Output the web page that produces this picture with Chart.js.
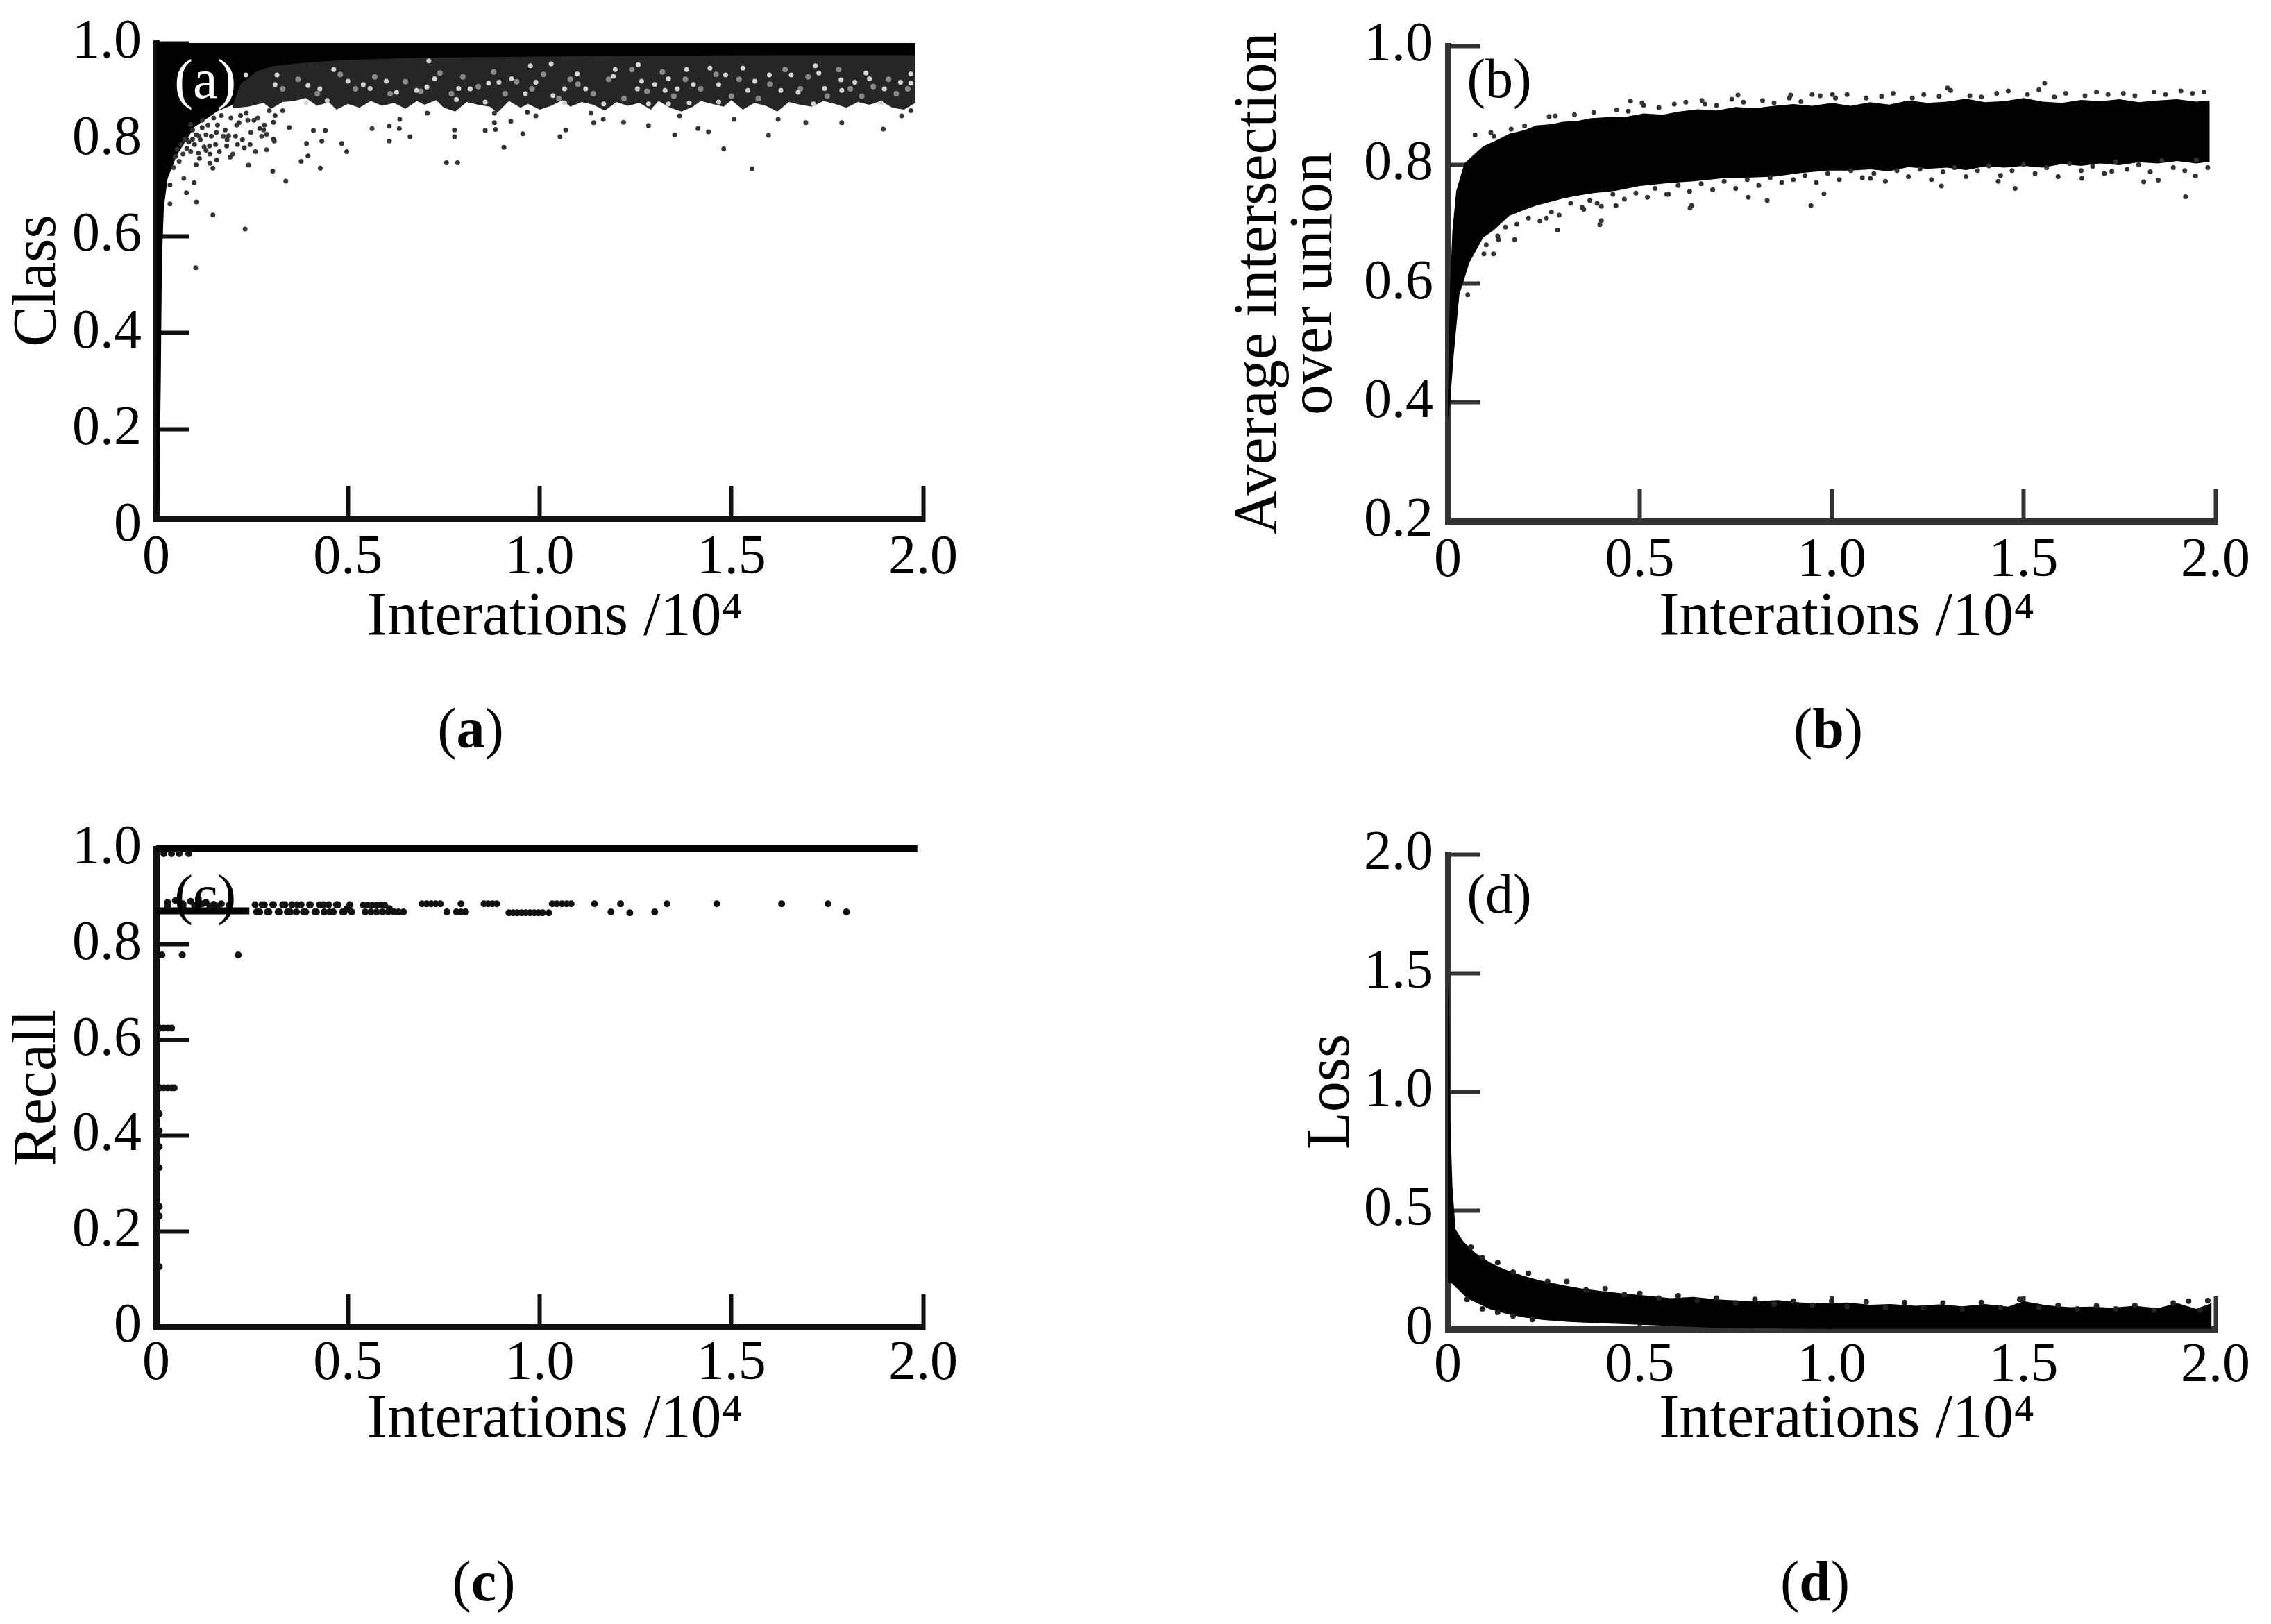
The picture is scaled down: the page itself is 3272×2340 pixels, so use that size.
<!DOCTYPE html>
<html>
<head>
<meta charset="utf-8">
<title>Training curves</title>
<script src="https://cdn.jsdelivr.net/npm/chart.js@4/dist/chart.umd.min.js"></script>
<style>
    body { margin: 0; background: #fff; width: 3272px; height: 2340px; position: relative; overflow: hidden; }
    canvas { position: absolute; }
    .caption { position: absolute; transform: translate(-50%, -50%); font: 82px "Liberation Serif", serif; color: #000; }
</style>
</head>
<body>
<canvas id="chartA" width="1500" height="1000" style="left:0;top:0"></canvas>
<canvas id="chartB" width="1572" height="1000" style="left:1700px;top:0"></canvas>
<canvas id="chartC" width="1500" height="1000" style="left:0;top:1170px"></canvas>
<canvas id="chartD" width="1572" height="1000" style="left:1700px;top:1170px"></canvas>
<div class="caption" style="left:678px;top:1050px">(<b>a</b>)</div>
<div class="caption" style="left:2634px;top:1050px">(<b>b</b>)</div>
<div class="caption" style="left:697px;top:2279px">(<b>c</b>)</div>
<div class="caption" style="left:2615px;top:2279px">(<b>d</b>)</div>
<script>
// Tick values and axis titles
const xTicks = [0, 0.5, 1, 1.5, 2];
const classTicks = [0, 0.2, 0.4, 0.6, 0.8, 1];
const iouTicks = [0.2, 0.4, 0.6, 0.8, 1];
const recallTicks = [0, 0.2, 0.4, 0.6, 0.8, 1];
const lossTicks = [0, 0.5, 1, 1.5, 2];
const xTitle = '\u00a0\u00a0Interations /10\u2074';

// (a) Class: solid black part of the cloud (lower edge, up to 1.0)
const classSolidX = [0, 0.008, 0.012, 0.015, 0.02, 0.03, 0.054, 0.1, 0.16, 0.2, 0.22, 0.26, 0.3, 0.4, 0.5, 0.7, 1, 1.3, 1.6, 1.98];
const classSolidLow = [0.02, 0.06, 0.3, 0.55, 0.66, 0.72, 0.768, 0.826, 0.859, 0.872, 0.915, 0.94, 0.952, 0.96, 0.965, 0.97, 0.972, 0.974, 0.975, 0.975];

// (a) Class: dark speckled part of the cloud, jagged lower edge
const classDarkX = [0.2, 0.24, 0.28, 0.3, 0.33, 0.36, 0.39, 0.42, 0.45, 0.47, 0.5, 0.53, 0.56, 0.59, 0.62, 0.65, 0.68, 0.7, 0.73, 0.75, 0.78, 0.81, 0.84, 0.87, 0.89, 0.92, 0.95, 0.97, 1, 1.03, 1.06, 1.08, 1.11, 1.14, 1.17, 1.2, 1.23, 1.26, 1.29, 1.31, 1.34, 1.37, 1.4, 1.42, 1.45, 1.48, 1.5, 1.53, 1.56, 1.59, 1.62, 1.65, 1.68, 1.71, 1.74, 1.77, 1.8, 1.83, 1.86, 1.89, 1.92, 1.95, 1.98];
const classDarkLow = [0.865, 0.868, 0.876, 0.864, 0.878, 0.88, 0.886, 0.87, 0.878, 0.862, 0.874, 0.866, 0.88, 0.87, 0.876, 0.864, 0.88, 0.872, 0.882, 0.866, 0.858, 0.878, 0.872, 0.868, 0.856, 0.88, 0.866, 0.874, 0.862, 0.87, 0.882, 0.868, 0.878, 0.872, 0.86, 0.878, 0.87, 0.876, 0.862, 0.88, 0.866, 0.858, 0.868, 0.88, 0.874, 0.868, 0.882, 0.862, 0.876, 0.87, 0.858, 0.878, 0.872, 0.868, 0.88, 0.874, 0.866, 0.878, 0.872, 0.88, 0.866, 0.862, 0.876];

// (a) Class: light gaps seen inside the speckled part
const classGapX = [0.234, 0.31, 0.315, 0.391, 0.396, 0.427, 0.446, 0.463, 0.5, 0.54, 0.558, 0.6, 0.627, 0.679, 0.706, 0.711, 0.726, 0.783, 0.789, 0.819, 0.858, 0.867, 0.894, 0.927, 0.963, 0.976, 0.99, 1.03, 1.035, 1.065, 1.065, 1.098, 1.12, 1.167, 1.192, 1.197, 1.255, 1.257, 1.266, 1.284, 1.3, 1.327, 1.336, 1.336, 1.359, 1.383, 1.39, 1.401, 1.444, 1.467, 1.467, 1.485, 1.53, 1.543, 1.561, 1.599, 1.629, 1.656, 1.674, 1.714, 1.719, 1.728, 1.743, 1.786, 1.788, 1.822, 1.851, 1.86, 1.89, 1.899, 1.941, 1.968, 1.968];
const classGapY = [0.934, 0.914, 0.934, 0.876, 0.912, 0.905, 0.881, 0.945, 0.921, 0.914, 0.906, 0.921, 0.898, 0.902, 0.909, 0.963, 0.926, 0.883, 0.906, 0.905, 0.878, 0.917, 0.919, 0.926, 0.895, 0.953, 0.919, 0.957, 0.891, 0.905, 0.876, 0.936, 0.905, 0.874, 0.931, 0.945, 0.905, 0.955, 0.921, 0.874, 0.914, 0.902, 0.926, 0.874, 0.905, 0.945, 0.876, 0.914, 0.948, 0.914, 0.878, 0.934, 0.948, 0.902, 0.921, 0.934, 0.902, 0.934, 0.898, 0.874, 0.953, 0.938, 0.906, 0.924, 0.902, 0.919, 0.938, 0.926, 0.876, 0.905, 0.919, 0.936, 0.917];
const classGreyX = [0.33, 0.37, 0.42, 0.48, 0.52, 0.57, 0.61, 0.65, 0.69, 0.74, 0.77, 0.8, 0.84, 0.88, 0.91, 0.94, 0.98, 1.01, 1.05, 1.08, 1.1, 1.14, 1.18, 1.22, 1.24, 1.28, 1.32, 1.35, 1.38, 1.42, 1.46, 1.5, 1.52, 1.57, 1.6, 1.64, 1.68, 1.7, 1.75, 1.78, 1.81, 1.84, 1.87, 1.91, 1.93, 1.96];
const classGreyY = [0.905, 0.925, 0.895, 0.935, 0.905, 0.93, 0.895, 0.92, 0.9, 0.938, 0.895, 0.93, 0.91, 0.94, 0.895, 0.92, 0.905, 0.935, 0.885, 0.925, 0.915, 0.895, 0.925, 0.885, 0.945, 0.9, 0.94, 0.89, 0.925, 0.905, 0.935, 0.89, 0.925, 0.885, 0.915, 0.945, 0.905, 0.93, 0.89, 0.945, 0.905, 0.89, 0.91, 0.925, 0.895, 0.905];

// (a) Class: separate points below the cloud
const classX = [0.036, 0.036, 0.072, 0.079, 0.09, 0.095, 0.099, 0.103, 0.104, 0.105, 0.112, 0.113, 0.12, 0.13, 0.139, 0.14, 0.144, 0.148, 0.148, 0.157, 0.158, 0.175, 0.184, 0.189, 0.193, 0.207, 0.212, 0.216, 0.23, 0.232, 0.239, 0.241, 0.247, 0.259, 0.27, 0.275, 0.282, 0.288, 0.288, 0.304, 0.306, 0.306, 0.308, 0.338, 0.347, 0.378, 0.392, 0.396, 0.41, 0.428, 0.432, 0.441, 0.484, 0.497, 0.563, 0.608, 0.608, 0.634, 0.635, 0.662, 0.707, 0.757, 0.778, 0.778, 0.786, 0.858, 0.882, 0.882, 0.885, 0.907, 0.925, 0.956, 0.968, 0.99, 1.053, 1.068, 1.134, 1.141, 1.166, 1.219, 1.284, 1.352, 1.365, 1.413, 1.44, 1.48, 1.507, 1.554, 1.597, 1.622, 1.694, 1.788, 1.896, 1.944, 1.968];
const classY = [0.667, 0.706, 0.72, 0.69, 0.831, 0.801, 0.711, 0.535, 0.748, 0.671, 0.807, 0.761, 0.84, 0.778, 0.787, 0.751, 0.807, 0.644, 0.741, 0.815, 0.758, 0.807, 0.787, 0.808, 0.764, 0.807, 0.79, 0.835, 0.783, 0.615, 0.84, 0.747, 0.815, 0.775, 0.823, 0.807, 0.83, 0.779, 0.811, 0.735, 0.801, 0.836, 0.797, 0.714, 0.825, 0.755, 0.792, 0.766, 0.819, 0.741, 0.797, 0.819, 0.792, 0.775, 0.823, 0.828, 0.797, 0.823, 0.842, 0.806, 0.855, 0.752, 0.82, 0.806, 0.752, 0.819, 0.835, 0.855, 0.821, 0.784, 0.838, 0.812, 0.857, 0.849, 0.806, 0.82, 0.855, 0.835, 0.842, 0.836, 0.829, 0.81, 0.849, 0.823, 0.816, 0.781, 0.842, 0.74, 0.809, 0.842, 0.835, 0.835, 0.822, 0.849, 0.86];
const classClusterX = [0.045, 0.05, 0.055, 0.06, 0.065, 0.07, 0.075, 0.08, 0.085, 0.09, 0.095, 0.1, 0.105, 0.11, 0.115, 0.12, 0.125, 0.13, 0.135, 0.14, 0.15, 0.155, 0.16, 0.165, 0.17, 0.18, 0.185, 0.195, 0.2, 0.21, 0.22, 0.225, 0.235, 0.245, 0.255, 0.265, 0.28, 0.295, 0.31, 0.33];
const classClusterY = [0.742, 0.765, 0.78, 0.755, 0.79, 0.77, 0.8, 0.782, 0.795, 0.775, 0.82, 0.79, 0.81, 0.772, 0.8, 0.825, 0.785, 0.81, 0.83, 0.77, 0.845, 0.79, 0.83, 0.775, 0.85, 0.82, 0.8, 0.845, 0.77, 0.83, 0.85, 0.8, 0.855, 0.79, 0.84, 0.845, 0.82, 0.86, 0.85, 0.86];

// (b) Average intersection over union: outline of the black band
const iouUpperX = [0, 0.006, 0.012, 0.022, 0.043, 0.07, 0.092, 0.13, 0.16, 0.2, 0.23, 0.27, 0.3, 0.34, 0.37, 0.42, 0.46, 0.51, 0.56, 0.6, 0.65, 0.7, 0.75, 0.8, 0.85, 0.9, 0.95, 1, 1.05, 1.1, 1.15, 1.2, 1.25, 1.3, 1.35, 1.4, 1.45, 1.5, 1.55, 1.6, 1.65, 1.7, 1.75, 1.8, 1.85, 1.9, 1.95, 1.985];
const iouUpper = [0.4, 0.6, 0.69, 0.756, 0.802, 0.818, 0.831, 0.842, 0.852, 0.858, 0.866, 0.868, 0.872, 0.874, 0.878, 0.88, 0.88, 0.886, 0.884, 0.889, 0.893, 0.891, 0.897, 0.895, 0.899, 0.902, 0.899, 0.904, 0.899, 0.905, 0.901, 0.908, 0.904, 0.906, 0.911, 0.905, 0.907, 0.912, 0.906, 0.904, 0.909, 0.907, 0.91, 0.905, 0.908, 0.91, 0.906, 0.908];
const iouLowerX = [0, 0.006, 0.015, 0.03, 0.056, 0.092, 0.12, 0.16, 0.2, 0.23, 0.26, 0.3, 0.34, 0.38, 0.437, 0.5, 0.575, 0.64, 0.714, 0.78, 0.85, 0.92, 0.99, 1.05, 1.1, 1.15, 1.2, 1.25, 1.3, 1.35, 1.4, 1.45, 1.5, 1.55, 1.6, 1.65, 1.7, 1.75, 1.8, 1.85, 1.9, 1.95, 1.985];
const iouLower = [0.37, 0.4, 0.477, 0.581, 0.635, 0.677, 0.69, 0.714, 0.724, 0.731, 0.736, 0.743, 0.748, 0.752, 0.756, 0.764, 0.769, 0.772, 0.777, 0.778, 0.78, 0.786, 0.79, 0.79, 0.792, 0.789, 0.796, 0.793, 0.795, 0.791, 0.797, 0.795, 0.798, 0.795, 0.801, 0.798, 0.802, 0.799, 0.804, 0.802, 0.806, 0.802, 0.805];

// (b) separate points around the band
const iouX = [0.052, 0.071, 0.094, 0.112, 0.119, 0.132, 0.165, 0.174, 0.257, 0.264, 0.286, 0.354, 0.389, 0.396, 0.4, 0.438, 0.476, 0.506, 0.575, 0.631, 0.635, 0.662, 0.756, 0.783, 0.832, 0.893, 0.946, 0.949, 0.98, 1.002, 1.101, 1.286, 1.302, 1.434, 1.478, 1.555, 1.652, 1.73, 1.813, 1.851, 1.922, 1.948];
const iouY = [0.581, 0.85, 0.65, 0.854, 0.65, 0.674, 0.86, 0.674, 0.71, 0.881, 0.69, 0.725, 0.735, 0.699, 0.706, 0.731, 0.907, 0.904, 0.75, 0.727, 0.731, 0.908, 0.917, 0.745, 0.74, 0.917, 0.731, 0.918, 0.751, 0.918, 0.777, 0.764, 0.929, 0.772, 0.76, 0.937, 0.777, 0.789, 0.771, 0.774, 0.746, 0.781];
// (b) loose points along the lower and upper fringe of the band
const iouLowFringeX = [0.1, 0.13, 0.15, 0.18, 0.21, 0.24, 0.27, 0.29, 0.32, 0.35, 0.37, 0.4, 0.43, 0.46, 0.49, 0.52, 0.54, 0.57, 0.6, 0.63, 0.66, 0.69, 0.72, 0.75, 0.78, 0.81, 0.84, 0.87, 0.9, 0.93, 0.96, 0.99, 1.02, 1.05, 1.08, 1.11, 1.14, 1.17, 1.2, 1.23, 1.26, 1.29, 1.32, 1.35, 1.38, 1.41, 1.44, 1.47, 1.5, 1.53, 1.56, 1.59, 1.62, 1.65, 1.68, 1.71, 1.74, 1.77, 1.8, 1.83, 1.86, 1.89, 1.92, 1.95, 1.98];
const iouLowFringeY = [0.665, 0.68, 0.695, 0.7, 0.71, 0.705, 0.72, 0.715, 0.735, 0.728, 0.74, 0.73, 0.75, 0.742, 0.752, 0.745, 0.76, 0.75, 0.765, 0.755, 0.768, 0.758, 0.772, 0.76, 0.775, 0.765, 0.778, 0.77, 0.775, 0.782, 0.77, 0.785, 0.775, 0.79, 0.778, 0.785, 0.772, 0.79, 0.78, 0.792, 0.775, 0.788, 0.795, 0.78, 0.79, 0.798, 0.782, 0.79, 0.8, 0.785, 0.795, 0.78, 0.802, 0.79, 0.797, 0.785, 0.805, 0.792, 0.8, 0.788, 0.807, 0.795, 0.79, 0.808, 0.795];
const iouHighFringeX = [0.12, 0.2, 0.28, 0.33, 0.38, 0.44, 0.47, 0.51, 0.55, 0.59, 0.62, 0.67, 0.7, 0.74, 0.77, 0.82, 0.85, 0.89, 0.92, 0.97, 1.01, 1.04, 1.09, 1.13, 1.16, 1.21, 1.24, 1.28, 1.31, 1.36, 1.39, 1.43, 1.46, 1.51, 1.54, 1.58, 1.61, 1.66, 1.69, 1.72, 1.76, 1.79, 1.84, 1.87, 1.91, 1.94, 1.97];
const iouHighFringeY = [0.848, 0.865, 0.882, 0.884, 0.888, 0.892, 0.89, 0.9, 0.896, 0.902, 0.905, 0.902, 0.9, 0.91, 0.905, 0.908, 0.904, 0.912, 0.906, 0.916, 0.912, 0.918, 0.912, 0.915, 0.92, 0.912, 0.918, 0.915, 0.925, 0.916, 0.914, 0.92, 0.924, 0.918, 0.926, 0.914, 0.92, 0.916, 0.922, 0.918, 0.92, 0.916, 0.922, 0.918, 0.924, 0.92, 0.922];

// (c) Recall: the points at 1.0 and the solid run near 0.87
const recallTopX = [0, 1.985];
const recallTopY = [1, 1];
const recallRunX = [0, 0.243];
const recallRunY = [0.87, 0.87];

// (c) separate points
const recallX = [0.008, 0.008, 0.008, 0.008, 0.008, 0.008, 0.008, 0.01, 0.02, 0.03, 0.04, 0.01, 0.02, 0.03, 0.04, 0.047, 0.015, 0.068, 0.214, 0.02, 0.04, 0.06, 0.085, 0.03, 0.05, 0.07, 0.09, 0.11, 0.13, 0.15, 0.17, 0.19, 0.03, 0.07, 0.1, 0.12, 0.14, 0.16, 0.258, 0.27, 0.282, 0.294, 0.306, 0.318, 0.33, 0.342, 0.354, 0.366, 0.378, 0.39, 0.402, 0.414, 0.426, 0.438, 0.45, 0.462, 0.474, 0.486, 0.498, 0.51, 0.262, 0.276, 0.29, 0.304, 0.322, 0.336, 0.35, 0.368, 0.384, 0.4, 0.418, 0.436, 0.452, 0.47, 0.49, 0.505, 0.54, 0.552, 0.564, 0.576, 0.586, 0.596, 0.608, 0.62, 0.632, 0.645, 0.545, 0.56, 0.575, 0.59, 0.605, 0.693, 0.705, 0.717, 0.729, 0.741, 0.758, 0.783, 0.795, 0.807, 0.795, 0.855, 0.866, 0.877, 0.888, 0.92, 0.931, 0.942, 0.953, 0.964, 0.975, 0.986, 0.997, 1.008, 1.024, 1.033, 1.045, 1.058, 1.07, 1.082, 1.143, 1.186, 1.211, 1.235, 1.3, 1.332, 1.462, 1.631, 1.752, 1.8, 1.825];
const recallY = [0.446, 0.377, 0.333, 0.252, 0.232, 0.126, 0.41, 0.625, 0.625, 0.625, 0.625, 0.5, 0.5, 0.5, 0.5, 0.5, 0.778, 0.778, 0.778, 0.99, 0.99, 0.99, 0.99, 0.888, 0.892, 0.885, 0.89, 0.895, 0.888, 0.884, 0.885, 0.882, 0.88, 0.88, 0.882, 0.885, 0.88, 0.88, 0.883, 0.868, 0.883, 0.868, 0.883, 0.868, 0.883, 0.868, 0.883, 0.868, 0.883, 0.868, 0.883, 0.868, 0.883, 0.868, 0.883, 0.868, 0.883, 0.868, 0.875, 0.868, 0.868, 0.883, 0.868, 0.883, 0.868, 0.883, 0.868, 0.883, 0.868, 0.883, 0.868, 0.883, 0.868, 0.883, 0.868, 0.883, 0.882, 0.882, 0.882, 0.882, 0.882, 0.882, 0.875, 0.868, 0.868, 0.868, 0.868, 0.868, 0.868, 0.868, 0.868, 0.885, 0.885, 0.885, 0.885, 0.885, 0.868, 0.868, 0.885, 0.868, 0.868, 0.885, 0.885, 0.885, 0.885, 0.866, 0.866, 0.866, 0.866, 0.866, 0.866, 0.866, 0.866, 0.866, 0.866, 0.885, 0.885, 0.885, 0.885, 0.885, 0.885, 0.868, 0.885, 0.866, 0.868, 0.885, 0.885, 0.885, 0.885, 0.868];

// (d) Loss: outline of the black band
const lossUpperX = [0, 0.004, 0.006, 0.012, 0.02, 0.04, 0.072, 0.11, 0.15, 0.195, 0.24, 0.3, 0.35, 0.4, 0.457, 0.52, 0.58, 0.64, 0.7, 0.76, 0.805, 0.86, 0.92, 0.98, 1.04, 1.1, 1.154, 1.22, 1.28, 1.34, 1.4, 1.46, 1.5, 1.56, 1.62, 1.676, 1.73, 1.79, 1.85, 1.9, 1.95, 1.99];
const lossUpper = [1.45, 1.3, 0.9, 0.6, 0.42, 0.37, 0.32, 0.28, 0.25, 0.225, 0.205, 0.185, 0.17, 0.16, 0.15, 0.14, 0.13, 0.135, 0.125, 0.12, 0.117, 0.122, 0.112, 0.108, 0.112, 0.102, 0.105, 0.098, 0.104, 0.096, 0.105, 0.094, 0.118, 0.1, 0.092, 0.094, 0.09, 0.098, 0.088, 0.11, 0.085, 0.11];
const lossLowerX = [0, 0.012, 0.05, 0.108, 0.15, 0.195, 0.25, 0.316, 0.4, 0.5, 0.6, 0.7, 1, 1.5, 1.99];
const lossLower = [0.2, 0.19, 0.13, 0.085, 0.065, 0.05, 0.038, 0.03, 0.024, 0.018, 0.012, 0.005, 0, 0, 0];
// (d) loose points along the edges of the band
const lossFringeX = [0.06, 0.09, 0.13, 0.17, 0.21, 0.26, 0.31, 0.36, 0.41, 0.46, 0.5, 0.55, 0.6, 0.65, 0.7, 0.75, 0.8, 0.85, 0.9, 0.95, 1, 1.04, 1.09, 1.14, 1.19, 1.24, 1.29, 1.34, 1.39, 1.44, 1.49, 1.54, 1.59, 1.64, 1.69, 1.74, 1.79, 1.84, 1.89, 1.93, 1.96, 1.98, 0.05, 0.09, 0.13, 0.17, 0.22];
const lossFringeY = [0.345, 0.3, 0.28, 0.24, 0.235, 0.2, 0.2, 0.165, 0.17, 0.145, 0.15, 0.13, 0.14, 0.12, 0.13, 0.11, 0.125, 0.105, 0.118, 0.1, 0.118, 0.095, 0.115, 0.09, 0.112, 0.09, 0.11, 0.085, 0.112, 0.09, 0.125, 0.09, 0.1, 0.085, 0.098, 0.085, 0.1, 0.08, 0.11, 0.118, 0.08, 0.12, 0.125, 0.085, 0.07, 0.055, 0.04];

// Small labels inside each plot: text, x, y in axis units
const panelLabelA = ['(a)', 0.128, 0.917];
const panelLabelB = ['(b)', 0.134, 0.938];
const panelLabelC = ['(c)', 0.128, 0.895];
const panelLabelD = ['(d)', 0.134, 1.816];

const serif = '"Liberation Serif", serif';

function pts(xs, ys) {
    return xs.map((x, i) => ({ x: x, y: ys[i] }));
}

function dots(xs, ys, color, radius) {
    return { type: 'scatter', data: pts(xs, ys), backgroundColor: color, pointRadius: radius, pointBorderWidth: 0 };
}

function band(data, color, fill) {
    return { type: 'line', data: data, borderWidth: 0, borderColor: color, backgroundColor: color, pointRadius: 0, tension: 0, fill: fill };
}

function stroke(xs, ys, width) {
    return { type: 'line', data: pts(xs, ys), borderWidth: width, borderColor: '#000', pointRadius: 0, fill: false, clip: false };
}

const panelLabelPlugin = {
    id: 'panelLabel',
    afterDatasetsDraw(chart, args, opts) {
        const ctx = chart.ctx;
        ctx.save();
        ctx.font = '80px ' + serif;
        ctx.fillStyle = opts.color;
        ctx.textAlign = 'center';
        ctx.textBaseline = 'middle';
        ctx.fillText(opts.label[0], chart.scales.x.getPixelForValue(opts.label[1]), chart.scales.y.getPixelForValue(opts.label[2]));
        ctx.restore();
    }
};

// Axis with inward ticks, plot box is fixed so the four panels sit where they should
function makeChart(id, cfg) {
    const canvas = document.getElementById(id);
    const axisColor = cfg.axisColor || '#222';
    const labelFmt = v => (v === 0 ? '0' : v.toFixed(1));
    const grid = {
        drawOnChartArea: false,
        tickLength: -47,
        tickWidth: 6,
        tickColor: c => (c.tick.value < c.scale.min ? 'transparent' : axisColor)
    };
    new Chart(canvas, {
        type: 'scatter',
        data: { datasets: cfg.datasets },
        plugins: [panelLabelPlugin],
        options: {
            responsive: false,
            animation: false,
            layout: { padding: { top: cfg.top, right: canvas.width - cfg.right, left: 0, bottom: 0 } },
            plugins: {
                legend: { display: false },
                tooltip: { enabled: false },
                panelLabel: { label: cfg.label, color: cfg.labelColor || '#000' }
            },
            scales: {
                x: {
                    type: 'linear',
                    min: 0,
                    max: 2,
                    grid: grid,
                    border: { color: axisColor, width: 9 },
                    afterBuildTicks: s => { s.ticks = xTicks.map(v => ({ value: v })); },
                    afterFit: s => { s.height = canvas.height - cfg.bottom; s.paddingLeft = 0; s.paddingRight = 0; },
                    ticks: { autoSkip: false, maxRotation: 0, padding: cfg.xTickPad, color: '#000', font: { family: serif, size: 80, lineHeight: 1.2 }, callback: labelFmt },
                    title: { display: true, text: xTitle, color: '#000', font: { family: serif, size: 88, lineHeight: 1.2 }, padding: { top: 0, bottom: cfg.xTitlePad } }
                },
                y: {
                    type: 'linear',
                    min: cfg.yMin,
                    max: cfg.yMax,
                    grid: grid,
                    border: { color: axisColor, width: 9 },
                    afterBuildTicks: s => { s.ticks = cfg.yTicks.map(v => ({ value: v })); },
                    afterFit: s => { s.width = cfg.left; s.paddingTop = 0; s.paddingBottom = 0; },
                    ticks: { autoSkip: false, padding: 68, color: '#000', font: { family: serif, size: 80, lineHeight: 1.2 }, callback: labelFmt },
                    title: { display: true, text: cfg.yTitle, color: '#000', font: { family: serif, size: 88, lineHeight: 0.91 }, padding: { top: cfg.titlePad, bottom: 0 } }
                }
            }
        }
    });
}

makeChart('chartA', {
    left: 225, right: 1330, top: 62, bottom: 747, xTickPad: 57, xTitlePad: 56,
    yMin: 0.0158, yMax: 1, yTicks: classTicks, yTitle: 'Class', titlePad: 16,
    label: panelLabelA, labelColor: '#fff', axisColor: '#111',
    datasets: [
        dots(classX, classY, '#333', 3.5),
        dots(classClusterX, classClusterY, '#333', 3.5),
        dots(classGapX, classGapY, '#d5d5d5', 3.5),
        dots(classGreyX, classGreyY, '#8a8a8a', 4),
        band(pts(classSolidX, classSolidLow), '#000', { value: 1 }),
        band(pts(classDarkX, classDarkLow), '#262626', { value: 1 })
    ]
});

makeChart('chartB', {
    left: 386, right: 1492, top: 66, bottom: 751, xTickPad: 57, xTitlePad: 56,
    yMin: 0.2, yMax: 1, yTicks: iouTicks, yTitle: ['Average intersection', 'over union'], titlePad: 75,
    label: panelLabelB, axisColor: '#333',
    datasets: [
        dots(iouX, iouY, '#333', 3.5),
        dots(iouLowFringeX, iouLowFringeY, '#333', 3.5),
        dots(iouHighFringeX, iouHighFringeY, '#333', 3.5),
        band(pts(iouUpperX, iouUpper), '#000', '+1'),
        band(pts(iouLowerX, iouLower), '#000', false)
    ]
});

makeChart('chartC', {
    left: 225, right: 1330, top: 53, bottom: 742, xTickPad: 53, xTitlePad: 70,
    yMin: 0, yMax: 1, yTicks: recallTicks, yTitle: 'Recall', titlePad: 16,
    label: panelLabelC, axisColor: '#111',
    datasets: [
        dots(recallX, recallY, '#111', 5),
        stroke(recallTopX, recallTopY, 10),
        stroke(recallRunX, recallRunY, 10)
    ]
});

makeChart('chartD', {
    left: 386, right: 1492, top: 61, bottom: 745, xTickPad: 53, xTitlePad: 70,
    yMin: 0, yMax: 2, yTicks: lossTicks, yTitle: 'Loss', titlePad: 180,
    label: panelLabelD, axisColor: '#333',
    datasets: [
        dots(lossFringeX, lossFringeY, '#222', 4),
        band(pts(lossUpperX, lossUpper), '#000', '+1'),
        band(pts(lossLowerX, lossLower), '#000', false)
    ]
});
</script>
</body>
</html>
